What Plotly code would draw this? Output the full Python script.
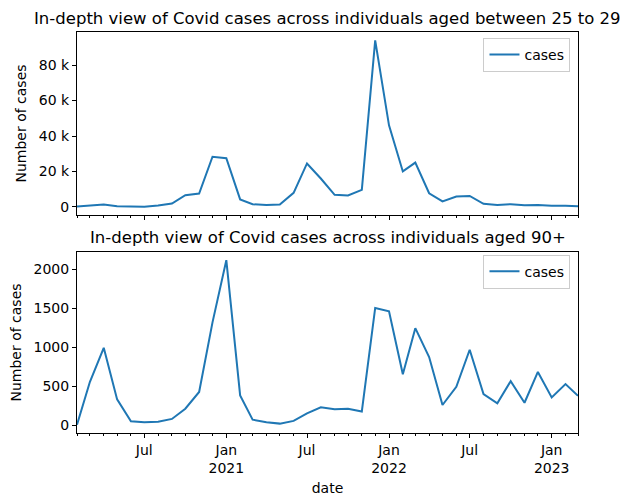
import pandas as pd
import plotly.graph_objects as go

dates = pd.date_range("2020-02-01", "2023-03-01", freq="MS")

cases_25_29 = [200, 600, 1300, 400, 100, 100, 800, 1900, 6600, 7500, 28300, 27500,
               4200, 1500, 1100, 1300, 7900, 24500, 16000, 6800, 6400, 9600, 94000, 46000,
               20000, 25000, 7700, 3100, 5800, 6200, 1700, 1100, 1500, 900, 1100, 600,
               600, 400]

cases_90 = [10, 560, 995, 335, 55, 42, 50, 85, 215, 430, 1320, 2115,
            385, 76, 42, 25, 60, 157, 233, 208, 215, 180, 1504, 1462,
            657, 1246, 877, 263, 496, 970, 403, 284, 568, 292, 686, 360,
            530, 381]

title_top = "In-depth view of Covid cases across individuals aged between 25 to 29"
title_bottom = "In-depth view of Covid cases across individuals aged 90+"
ytick_top_vals = [0, 20000, 40000, 60000, 80000]
ytick_top_text = ["0", "20 k", "40 k", "60 k", "80 k"]
ytick_bot_vals = [0, 500, 1000, 1500, 2000]
ytick_bot_text = ["0", "500", "1000", "1500", "2000"]
xtick_vals = ["2020-07-01", "2021-01-01", "2021-07-01", "2022-01-01", "2022-07-01", "2023-01-01"]
xtick_text = ["Jul", "Jan<br>2021", "Jul", "Jan<br>2022", "Jul", "Jan<br>2023"]

BLUE = "#1f77b4"
FONT = "DejaVu Sans"

fig = go.Figure()
fig.add_trace(go.Scatter(x=dates, y=cases_25_29, mode="lines", name="cases",
                         line=dict(color=BLUE, width=2), xaxis="x", yaxis="y",
                         legend="legend"))
fig.add_trace(go.Scatter(x=dates, y=cases_90, mode="lines", name="cases",
                         line=dict(color=BLUE, width=2), xaxis="x2", yaxis="y2",
                         legend="legend2"))

xr = ["2020-02-01", "2023-03-01"]
common_x = dict(range=xr, type="date", showgrid=False, zeroline=False,
                showline=True, linecolor="black", linewidth=1, mirror=True,
                ticks="outside", ticklen=4, tickcolor="black", tickwidth=1,
                tickmode="array", tickvals=xtick_vals,
                minor=dict(ticks="outside", ticklen=2, tickcolor="black", dtick="M1",
                           tick0="2020-02-01", showgrid=False))
common_y = dict(showgrid=False, zeroline=False, showline=True, linecolor="black",
                linewidth=1, mirror=True, ticks="outside", ticklen=4,
                tickcolor="black", tickwidth=1, tickmode="array",
                title=dict(text="Number of cases", font=dict(size=14, family=FONT, color="black"), standoff=8))

top_dom = [0.5436, 1.0]
bot_dom = [0.0, 0.4514]

fig.update_layout(
    width=639, height=499,
    margin=dict(l=69, r=69, t=24, b=74, autoexpand=False),
    paper_bgcolor="white", plot_bgcolor="white",
    font=dict(family=FONT, size=14, color="black"),
    xaxis=dict(**common_x, domain=[0, 1], anchor="y", showticklabels=False),
    xaxis2=dict(**common_x, domain=[0, 1], anchor="y2", ticktext=xtick_text,
                title=dict(text="date", font=dict(size=14, family=FONT), standoff=8)),
    yaxis=dict(**common_y, domain=top_dom, anchor="x", range=[-4595, 98695],
               tickvals=ytick_top_vals, ticktext=ytick_top_text),
    yaxis2=dict(**common_y, domain=bot_dom, anchor="x2", range=[-95, 2220],
                tickvals=ytick_bot_vals, ticktext=ytick_bot_text),
    legend=dict(x=0.985, y=0.985, xanchor="right", yanchor="top",
                bgcolor="rgba(255,255,255,0.8)", bordercolor="#cccccc", borderwidth=1,
                font=dict(size=14, family=FONT)),
    legend2=dict(x=0.985, y=0.445, xanchor="right", yanchor="top",
                 bgcolor="rgba(255,255,255,0.8)", bordercolor="#cccccc", borderwidth=1,
                 font=dict(size=14, family=FONT)),
    showlegend=True,
    annotations=[
        dict(text=title_top, x=0.5, y=1.0, xref="paper", yref="paper",
             xanchor="center", yanchor="bottom", yshift=2, showarrow=False,
             font=dict(size=16.5, family=FONT)),
        dict(text=title_bottom, x=0.5, y=bot_dom[1], xref="paper", yref="paper",
             xanchor="center", yanchor="bottom", yshift=3, showarrow=False,
             font=dict(size=16.5, family=FONT)),
    ],
)

fig.write_html("out.html")
